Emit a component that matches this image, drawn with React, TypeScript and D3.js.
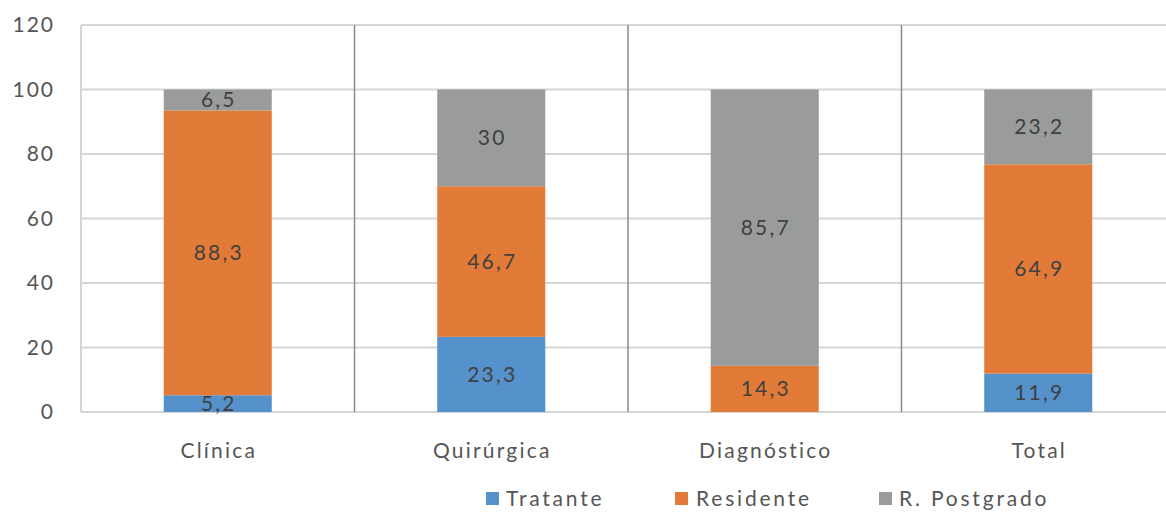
import React from "react";
import * as d3 from "d3";

const categories = ["Clínica", "Quirúrgica", "Diagnóstico", "Total"];
const seriesNames = ["Tratante", "Residente", "R. Postgrado"];
const tratante = [5.2, 23.3, 0, 11.9];
const residente = [88.3, 46.7, 14.3, 64.9];
const postgrado = [6.5, 30, 85.7, 23.2];
const yTicks = [0, 20, 40, 60, 80, 100, 120];
const colors = ["#5591CA", "#E27B37", "#9A9C9C"];

const W = 1166;
const H = 515;
const M = { left: 81, top: 25, bottom: 412, right: 1175 };
const FONT = "Lato, 'Open Sans', sans-serif";

export default function App() {
  const x = d3.scaleBand<string>().domain(categories).range([M.left, M.right]).paddingInner(0).paddingOuter(0);
  const y = d3.scaleLinear().domain([0, 120]).range([M.bottom, M.top]);
  const source = [tratante, residente, postgrado];
  const rows = categories.map((c, i) => ({ cat: c, Tratante: tratante[i], Residente: residente[i], "R. Postgrado": postgrado[i] }));
  const stack = d3.stack<any>().keys(seriesNames)(rows);
  const bw = x.bandwidth() * 0.395;
  const fmt = (v: number) => String(v).replace(".", ",");

  const legendItems = [
    { name: seriesNames[0], sx: 486, tx: 506 },
    { name: seriesNames[1], sx: 675, tx: 696 },
    { name: seriesNames[2], sx: 879, tx: 899 },
  ];

  return (
    <svg width={W} height={H} style={{ position: "absolute", left: 0, top: 0, background: "#fff" }} fontFamily={FONT}>
      {yTicks.map((t) => (
        <g key={t}>
          <line x1={M.left} x2={M.right} y1={y(t)} y2={y(t)} stroke="#D6D6D6" strokeWidth={2} />
          <text x={55} y={y(t)} dy="0.35em" textAnchor="end" fontSize={21} fill="#555" letterSpacing={2}>{t}</text>
        </g>
      ))}
      <line x1={M.left} x2={M.left} y1={M.top} y2={M.bottom} stroke="#D6D6D6" strokeWidth={2} />
      {categories.slice(1).map((c) => (
        <line key={c} x1={x(c)} x2={x(c)} y1={M.top} y2={M.bottom} stroke="#8A8A8A" strokeWidth={1.5} />
      ))}
      {stack.map((s, si) => (
        <g key={s.key}>
          {s.map((d, i) => {
            const v = source[si][i];
            if (v <= 0) return null;
            const cx = (x(categories[i]) as number) + x.bandwidth() / 2;
            return (
              <g key={i}>
                <rect x={cx - bw / 2} y={y(d[1])} width={bw} height={y(d[0]) - y(d[1])} fill={colors[si]} />
                <text x={cx + 1} y={(y(d[0]) + y(d[1])) / 2} dy="0.35em" textAnchor="middle" fontSize={21} fill="#404040" letterSpacing={2.2}>{fmt(v)}</text>
              </g>
            );
          })}
        </g>
      ))}
      {categories.map((c) => (
        <text key={c} x={(x(c) as number) + x.bandwidth() / 2 + 1} y={451} dy="0.35em" textAnchor="middle" fontSize={21} fill="#555" letterSpacing={2.2}>{c}</text>
      ))}
      {legendItems.map((l, i) => (
        <g key={l.name}>
          <rect x={l.sx} y={492} width={13} height={13} fill={colors[i]} />
          <text x={l.tx} y={499} dy="0.35em" fontSize={21} fill="#555" letterSpacing={2.8}>{l.name}</text>
        </g>
      ))}
    </svg>
  );
}
